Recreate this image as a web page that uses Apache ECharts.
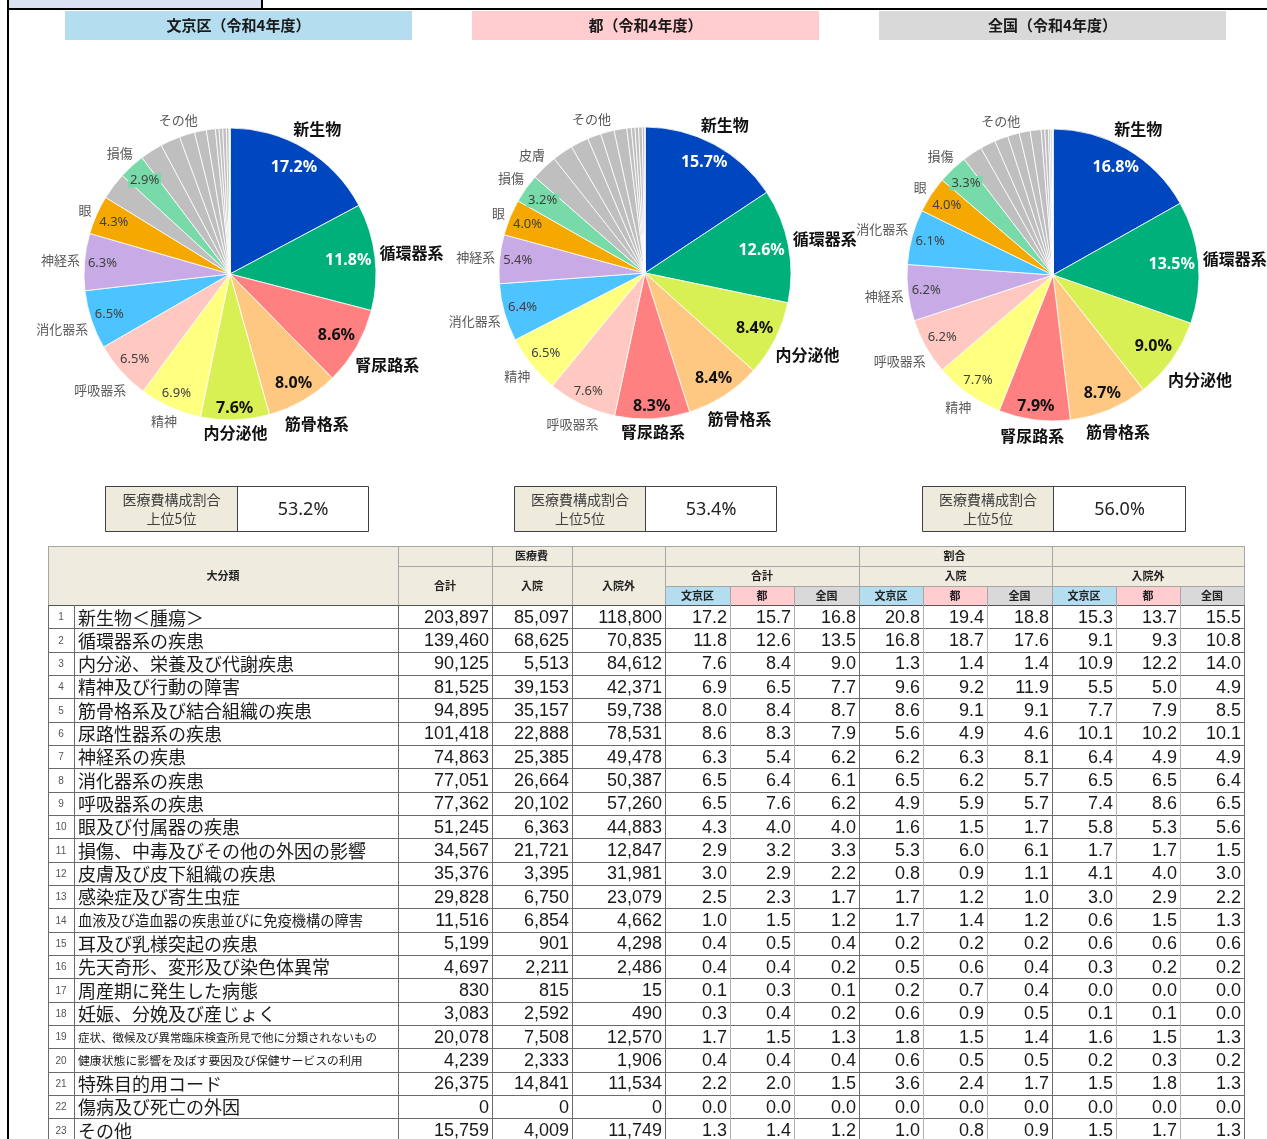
<!DOCTYPE html>
<html><head><meta charset="utf-8">
<script src="https://cdn.jsdelivr.net/npm/echarts@6/dist/echarts.min.js"></script>
<style>html,body{margin:0;padding:0;background:#fff}#c{width:1267px;height:1139px}</style>
</head><body><div id="c"></div><script>
// ---------------- DATA ----------------
const categories = ['新生物＜腫瘍＞','循環器系の疾患','内分泌、栄養及び代謝疾患','精神及び行動の障害','筋骨格系及び結合組織の疾患','尿路性器系の疾患','神経系の疾患','消化器系の疾患','呼吸器系の疾患','眼及び付属器の疾患','損傷、中毒及びその他の外因の影響','皮膚及び皮下組織の疾患','感染症及び寄生虫症','血液及び造血器の疾患並びに免疫機構の障害','耳及び乳様突起の疾患','先天奇形、変形及び染色体異常','周産期に発生した病態','妊娠、分娩及び産じょく','症状、徴候及び異常臨床検査所見で他に分類されないもの','健康状態に影響を及ぼす要因及び保健サービスの利用','特殊目的用コード','傷病及び死亡の外因','その他'];
const pieShortNames = ['新生物','循環器系','内分泌他','精神','筋骨格系','腎尿路系','神経系','消化器系','呼吸器系','眼','損傷','皮膚'];
const otherLabel = 'その他';
const costTotal = [203897,139460,90125,81525,94895,101418,74863,77051,77362,51245,34567,35376,29828,11516,5199,4697,830,3083,20078,4239,26375,0,15759];
const costInpatient = [85097,68625,5513,39153,35157,22888,25385,26664,20102,6363,21721,3395,6750,6854,901,2211,815,2592,7508,2333,14841,0,4009];
const costOutpatient = [118800,70835,84612,42371,59738,78531,49478,50387,57260,44883,12847,31981,23079,4662,4298,2486,15,490,12570,1906,11534,0,11749];
const shareTotalBunkyo = [17.2,11.8,7.6,6.9,8.0,8.6,6.3,6.5,6.5,4.3,2.9,3.0,2.5,1.0,0.4,0.4,0.1,0.3,1.7,0.4,2.2,0.0,1.3];
const shareTotalTokyo  = [15.7,12.6,8.4,6.5,8.4,8.3,5.4,6.4,7.6,4.0,3.2,2.9,2.3,1.5,0.5,0.4,0.3,0.4,1.5,0.4,2.0,0.0,1.4];
const shareTotalJapan  = [16.8,13.5,9.0,7.7,8.7,7.9,6.2,6.1,6.2,4.0,3.3,2.2,1.7,1.2,0.4,0.2,0.1,0.2,1.3,0.4,1.5,0.0,1.2];
const shareInBunkyo = [20.8,16.8,1.3,9.6,8.6,5.6,6.2,6.5,4.9,1.6,5.3,0.8,1.7,1.7,0.2,0.5,0.2,0.6,1.8,0.6,3.6,0.0,1.0];
const shareInTokyo  = [19.4,18.7,1.4,9.2,9.1,4.9,6.3,6.2,5.9,1.5,6.0,0.9,1.2,1.4,0.2,0.6,0.7,0.9,1.5,0.5,2.4,0.0,0.8];
const shareInJapan  = [18.8,17.6,1.4,11.9,9.1,4.6,8.1,5.7,5.7,1.7,6.1,1.1,1.0,1.2,0.2,0.4,0.4,0.5,1.4,0.5,1.7,0.0,0.9];
const shareOutBunkyo = [15.3,9.1,10.9,5.5,7.7,10.1,6.4,6.5,7.4,5.8,1.7,4.1,3.0,0.6,0.6,0.3,0.0,0.1,1.6,0.2,1.5,0.0,1.5];
const shareOutTokyo  = [13.7,9.3,12.2,5.0,7.9,10.2,4.9,6.5,8.6,5.3,1.7,4.0,2.9,1.5,0.6,0.2,0.0,0.1,1.5,0.3,1.8,0.0,1.7];
const shareOutJapan  = [15.5,10.8,14.0,4.9,8.5,10.1,4.9,6.4,6.5,5.6,1.5,3.0,2.2,1.3,0.6,0.2,0.0,0.0,1.3,0.2,1.3,0.0,1.3];
// slice order (leading coloured/labelled slices; the rest follow in descending order)
const leadBunkyo = [0,1,5,4,2,3,8,7,6,9,11,10];
const leadTokyo  = [0,1,2,4,5,8,3,7,6,9,10,11];
const leadJapan  = [0,1,2,4,5,3,8,6,7,9,10];
const nameLabelsBunkyo = [0,1,2,3,4,5,6,7,8,9,10];
const nameLabelsTokyo  = [0,1,2,3,4,5,6,7,8,9,10,11];
const nameLabelsJapan  = [0,1,2,3,4,5,6,7,8,9,10];
const pieTitles = ['文京区（令和4年度）','都（令和4年度）','全国（令和4年度）'];
const top5Texts = ['53.2%','53.4%','56.0%'];
const boxLabel = '医療費構成割合\n上位5位';
const headRegion = ['文京区','都','全国'];
const headGroups = ['合計','入院','入院外'];

// ---------------- STYLE ----------------
const JP = '"Noto Sans CJK JP","Noto Sans",sans-serif';
const NUM = '"Liberation Sans",Arial,sans-serif';
const PCT = '"Noto Sans","Noto Sans CJK JP",sans-serif';
const sliceColors = ['#0046BE','#00B07A','#D9F055','#FFFF80','#FFC882','#FF8080','#C8AAE6','#4DC3FF','#FFC8C0','#F5A800','#78DAA8'];
const GREY = '#BFBFBF';
const regionBg = ['#B4DDF0','#FFCCD0','#D9D9D9'];
const headBg = '#EFEBDF';
const PIE_R = 146;
const pieLayout = [
  {cx:230, cy:274, title:[65,412], box:[105,237,368]},
  {cx:645, cy:273, title:[472,819], box:[514,645,776]},
  {cx:1053,cy:275, title:[879,1226], box:[922,1053,1185]}
];
const pieData = [
  {share:shareTotalBunkyo, lead:leadBunkyo, names:nameLabelsBunkyo},
  {share:shareTotalTokyo, lead:leadTokyo, names:nameLabelsTokyo},
  {share:shareTotalJapan, lead:leadJapan, names:nameLabelsJapan}
];

const G = [];
function rect(x,y,w,h,fill,stroke,lw){G.push({type:'rect',silent:true,shape:{x,y,width:w,height:h},style:{fill:fill||'none',stroke:stroke||null,lineWidth:lw||0}});}
function line(x1,y1,x2,y2,stroke,lw){G.push({type:'line',silent:true,shape:{x1,y1,x2,y2},style:{stroke,lineWidth:lw||1}});}
function text(x,y,t,o){G.push({type:'text',silent:true,x,y,style:Object.assign({text:t,fill:'#222',fontSize:12,fontFamily:JP,align:'center',verticalAlign:'middle'},o||{})});}

// frame
rect(9,0,253,8,'#D9E1F2');
line(8,0,8,1139,'#000',2);
line(262,0,262,9,'#000',2);
line(8,9,1267,9,'#000',2);

const option = {animation:false, series:[], graphic:{elements:G}};

pieData.forEach((pd,k)=>{
  const L = pieLayout[k];
  rect(L.title[0],11,L.title[1]-L.title[0],29,regionBg[k]);
  text((L.title[0]+L.title[1])/2,25.5,pieTitles[k],{fontSize:15,fontWeight:'bold',fill:'#1a1a1a'});
  rect(L.box[0]+0.5,486.5,L.box[1]-L.box[0],45,'#EEEADC','#404040',1);
  rect(L.box[1]+0.5,486.5,L.box[2]-L.box[1],45,'#fff','#404040',1);
  text((L.box[0]+L.box[1])/2+0.5,509,boxLabel,{fontSize:14,fill:'#404040',lineHeight:19});
  text((L.box[1]+L.box[2])/2+0.5,509.5,top5Texts[k],{fontSize:18,fill:'#222',fontFamily:PCT});

  const share = pd.share;
  const rest = share.map((v,i)=>i).filter(i=>pd.lead.indexOf(i)<0).sort((a,b)=>share[b]-share[a]);
  const order = pd.lead.concat(rest);
  const top5 = order.slice(0,5);
  option.series.push({
    type:'pie', center:[L.cx,L.cy], radius:[0,PIE_R], startAngle:90, clockwise:true, silent:true,
    label:{show:false}, labelLine:{show:false}, emphasis:{disabled:true},
    itemStyle:{borderColor:'#fff',borderWidth:0.8},
    data: order.map(i=>({name:categories[i], value:share[i], itemStyle:{color: i<sliceColors.length?sliceColors[i]:GREY}}))
  });
  const merged = pd.lead.map(i=>({cat:i,value:share[i]}));
  merged.push({cat:-1, value: rest.reduce((s,i)=>s+share[i],0)});
  const total = merged.reduce((s,d)=>s+d.value,0);
  let acc = 0;
  const mids = merged.map(d=>{const m=(acc+d.value/2)/total*2*Math.PI; acc+=d.value; return m;});

  // percentage labels: box placed just inside the rim
  option.series.push({
    type:'pie', center:[L.cx,L.cy], radius:[0,PIE_R], startAngle:90, clockwise:true, silent:true,
    emphasis:{disabled:true}, avoidLabelOverlap:false,
    itemStyle:{color:'rgba(0,0,0,0)',borderWidth:0},
    labelLine:{show:false},
    label:{position:'inside', formatter:p=>p.data.t},
    labelLayout: function(params){
      const a = mids[params.dataIndex];
      const w = params.labelRect.width/2, h = params.labelRect.height/2;
      const d = PIE_R - 3 - w*Math.abs(Math.sin(a)) - h*Math.abs(Math.cos(a));
      return {x: L.cx + d*Math.sin(a), y: L.cy - d*Math.cos(a), align:'center', verticalAlign:'middle'};
    },
    data: merged.map(d=>{
      const c = d.cat;
      const isTop = top5.indexOf(c)>=0;
      const show = c>=0 && c<=10;
      const lab = {show, fontFamily:PCT, fontSize:isTop?16:13, fontWeight:isTop?'bold':'normal',
        color: (c===0||c===1)?'#fff':(isTop?'#111':'#404040')};
      if (c===10) { lab.backgroundColor = sliceColors[10]; lab.padding=[1,2,0,2]; }
      return {name:String(c), value:d.value, t: show?share[c].toFixed(1)+'%':'', label:lab};
    })
  });

  // category-name labels: box placed just outside the rim
  option.series.push({
    type:'pie', center:[L.cx,L.cy], radius:[0,PIE_R], startAngle:90, clockwise:true, silent:true,
    emphasis:{disabled:true}, avoidLabelOverlap:false,
    itemStyle:{color:'rgba(0,0,0,0)',borderWidth:0},
    labelLine:{show:false,length:0,length2:0},
    label:{position:'outside', formatter:p=>p.data.t},
    labelLayout: function(params){
      const a = mids[params.dataIndex];
      const w = params.labelRect.width/2, h = params.labelRect.height/2;
      const d = PIE_R + 4 + w*Math.abs(Math.sin(a)) + h*Math.abs(Math.cos(a));
      return {x: L.cx + d*Math.sin(a), y: L.cy - d*Math.cos(a), align:'center', verticalAlign:'middle'};
    },
    data: merged.map(d=>{
      const c = d.cat;
      const isTop = top5.indexOf(c)>=0;
      const show = c<0 || pd.names.indexOf(c)>=0;
      const t = c<0 ? otherLabel : (pieShortNames[c]||'');
      return {name:'n'+c, value:d.value, t, label:{show, fontFamily:JP, fontSize:isTop?16:13,
        fontWeight:isTop?'bold':'normal', color:isTop?'#111':'#595959'}};
    })
  });
});

// ---------------- TABLE ----------------
const colX = [48,74,398,492,572,665,730,794,859,923,987,1052,1116,1180,1244];
const rowH = 23.33;
const HB = '#A6A6A6';
rect(48,546,350,59,headBg);
text(223,575.5,'大分類',{fontSize:11,fontWeight:'bold'});
rect(398,546,267,20,headBg);
text(531.5,556,'医療費',{fontSize:11,fontWeight:'bold'});
[[398,492],[492,572],[572,665]].forEach((c,j)=>{rect(c[0],566,c[1]-c[0],39,headBg);text((c[0]+c[1])/2,585.5,headGroups[j],{fontSize:11,fontWeight:'bold'});});
rect(665,546,579,20,headBg);
text(954.5,556,'割合',{fontSize:11,fontWeight:'bold'});
for (let g=0; g<3; g++){
  const x0 = colX[5+g*3], x1 = colX[8+g*3];
  rect(x0,566,x1-x0,20,headBg);
  text((x0+x1)/2,576,headGroups[g],{fontSize:11,fontWeight:'bold'});
  for (let r=0;r<3;r++){
    const a = colX[5+g*3+r], b = colX[6+g*3+r];
    rect(a,586,b-a,19,regionBg[r]);
    text((a+b)/2,595.5,headRegion[r],{fontSize:11,fontWeight:'bold'});
  }
}
line(48,546.5,1244,546.5,HB,1);
line(398,566.5,1244,566.5,HB,1);
line(665,586.5,1244,586.5,HB,1);
[48,398,492,572,665,859,1052,1244].forEach(x=>line(x+0.5,546,x+0.5,605,HB,1));
[730,794,923,987,1116,1180].forEach(x=>line(x+0.5,586,x+0.5,605,HB,1));
line(48,605.5,1244,605.5,'#555',1);

const fmtInt = v=>v.toLocaleString('en-US');
const numCols = [costTotal,costInpatient,costOutpatient,shareTotalBunkyo,shareTotalTokyo,shareTotalJapan,shareInBunkyo,shareInTokyo,shareInJapan,shareOutBunkyo,shareOutTokyo,shareOutJapan];
categories.forEach((name,i)=>{
  const y0 = 605 + i*rowH, yc = y0 + rowH/2 + 1;
  text(61,yc,String(i+1),{fontSize:10,fill:'#555',fontFamily:NUM});
  const fs = name.length<=17 ? 18 : Math.max(11.5, 285/name.length);
  text(78,yc,name,{fontSize:fs,align:'left',fill:'#1a1a1a'});
  numCols.forEach((arr,j)=>{
    const v = arr[i];
    text(colX[j+3]-3,yc,j<3?fmtInt(v):v.toFixed(1),{fontSize:18,fontFamily:NUM,align:'right',fill:'#1a1a1a'});
  });
  line(48,Math.round(y0+rowH)+0.5,1244,Math.round(y0+rowH)+0.5,'#6b6b6b',1);
});
[48,74,398,492,572,665,859,1052,1244].forEach(x=>line(x+0.5,605,x+0.5,1139,'#6b6b6b',1));
[730,794,923,987,1116,1180].forEach(x=>line(x+0.5,605,x+0.5,1139,'#B0B0B0',1));

const chart = echarts.init(document.getElementById('c'));
chart.setOption(option);
</script></body></html>
